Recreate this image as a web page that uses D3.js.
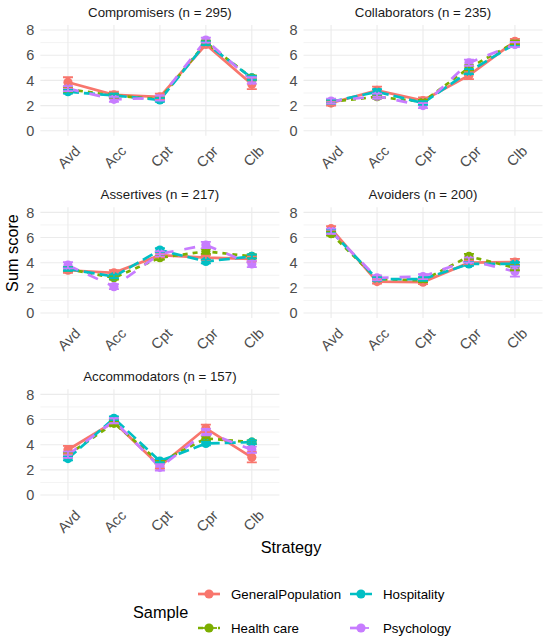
<!DOCTYPE html>
<html>
<head>
<meta charset="utf-8">
<script src="https://cdn.jsdelivr.net/npm/d3@7"></script>
<style>
  body { margin: 0; background: #fff; }
  text { font-family: "Liberation Sans", Arial, sans-serif; }
</style>
</head>
<body>
<div id="chart"></div>
<script>
var width = 550;
var height = 642;

var strategies = ["Avd", "Acc", "Cpt", "Cpr", "Clb"];
var samples = ["GeneralPopulation", "Health care", "Hospitality", "Psychology"];
var clusters = ["Compromisers (n = 295)", "Collaborators (n = 235)", "Assertives (n = 217)",
                "Avoiders (n = 200)", "Accommodators (n = 157)"];
var yTicks = [0, 2, 4, 6, 8];

// means per sample (rows follow `samples`)
var compromisersMean = [[3.85, 2.85, 2.7, 6.85, 3.7], [3.3, 2.8, 2.5, 7.0, 4.2],
                        [3.1, 2.8, 2.45, 6.95, 4.2], [3.35, 2.5, 2.6, 7.2, 4.0]];
var compromisersErr  = [[0.4, 0.25, 0.25, 0.2, 0.4], [0.2, 0.15, 0.15, 0.15, 0.2],
                        [0.15, 0.15, 0.15, 0.15, 0.15], [0.2, 0.2, 0.2, 0.2, 0.25]];
var collaboratorsMean = [[2.2, 3.2, 2.4, 4.4, 7.1], [2.3, 2.7, 2.3, 5.0, 7.0],
                         [2.3, 3.1, 2.2, 4.7, 6.9], [2.35, 2.75, 2.0, 5.4, 6.85]];
var collaboratorsErr  = [[0.2, 0.3, 0.25, 0.3, 0.2], [0.15, 0.15, 0.15, 0.2, 0.15],
                         [0.15, 0.2, 0.15, 0.2, 0.15], [0.2, 0.2, 0.2, 0.25, 0.2]];
var assertivesMean = [[3.4, 3.2, 4.6, 4.4, 4.3], [3.5, 2.8, 4.4, 4.9, 4.5],
                      [3.5, 2.9, 5.0, 4.1, 4.5], [3.8, 2.1, 4.7, 5.4, 3.9]];
var assertivesErr  = [[0.2, 0.2, 0.2, 0.2, 0.2], [0.15, 0.15, 0.15, 0.2, 0.15],
                      [0.15, 0.15, 0.15, 0.15, 0.15], [0.25, 0.2, 0.2, 0.25, 0.25]];
var avoidersMean = [[6.7, 2.5, 2.45, 4.0, 4.05], [6.3, 2.7, 2.6, 4.5, 3.6],
                    [6.5, 2.7, 2.7, 3.9, 3.9], [6.5, 2.8, 2.9, 4.2, 3.3]];
var avoidersErr  = [[0.2, 0.15, 0.15, 0.2, 0.25], [0.15, 0.15, 0.15, 0.2, 0.2],
                    [0.15, 0.15, 0.15, 0.15, 0.15], [0.2, 0.2, 0.2, 0.2, 0.4]];
var accommodatorsMean = [[3.6, 5.8, 2.3, 5.3, 3.0], [3.2, 5.7, 2.6, 4.5, 4.2],
                         [2.9, 6.1, 2.7, 4.1, 4.2], [3.2, 5.9, 2.2, 5.0, 3.6]];
var accommodatorsErr  = [[0.3, 0.2, 0.2, 0.3, 0.4], [0.2, 0.15, 0.15, 0.2, 0.15],
                         [0.15, 0.15, 0.15, 0.15, 0.15], [0.25, 0.2, 0.25, 0.25, 0.25]];

var panelMeans = [compromisersMean, collaboratorsMean, assertivesMean, avoidersMean, accommodatorsMean];
var panelErrs = [compromisersErr, collaboratorsErr, assertivesErr, avoidersErr, accommodatorsErr];

var colors = ["#F8766D", "#7CAE00", "#00BFC4", "#C77CFF"];
var lw = 2.7;
var dashes = [null, "5,5", "11,5", "11,11"];

var colLeft = [40.4, 303.5];
var panelW = 239;
var rowTop = [25, 207.3, 389.3];
var panelH = 110.8;

var svg = d3.select("#chart").append("svg")
    .attr("width", width)
    .attr("height", height);

clusters.forEach(function(title, p) {
  var col = p % 2, row = Math.floor(p / 2);
  var left = colLeft[col], top = rowTop[row];

  var x = d3.scalePoint().domain(strategies).range([left, left + panelW]).padding(0.6);
  var y = d3.scaleLinear().domain([-0.4, 8.4]).range([top + panelH, top]);

  var g = svg.append("g");

  // grid
  g.selectAll("line.minor").data([1, 3, 5, 7]).enter().append("line")
      .attr("x1", left).attr("x2", left + panelW)
      .attr("y1", function(d) { return y(d); }).attr("y2", function(d) { return y(d); })
      .attr("stroke", "#ebebeb").attr("stroke-width", 0.6);
  g.selectAll("line.major").data(yTicks).enter().append("line")
      .attr("x1", left).attr("x2", left + panelW)
      .attr("y1", function(d) { return y(d); }).attr("y2", function(d) { return y(d); })
      .attr("stroke", "#ebebeb").attr("stroke-width", 1.1);
  g.selectAll("line.vert").data(strategies).enter().append("line")
      .attr("x1", function(d) { return x(d); }).attr("x2", function(d) { return x(d); })
      .attr("y1", top).attr("y2", top + panelH)
      .attr("stroke", "#ebebeb").attr("stroke-width", 1.1);

  // y tick labels
  g.selectAll("text.yt").data(yTicks).enter().append("text")
      .attr("x", left - 6).attr("y", function(d) { return y(d); })
      .attr("dy", "0.36em").attr("text-anchor", "end")
      .attr("font-size", 14.5).attr("fill", "#4d4d4d")
      .text(function(d) { return d; });

  // x tick labels
  g.selectAll("text.xt").data(strategies).enter().append("text")
      .attr("transform", function(d) { return "translate(" + (x(d) + 6) + "," + (top + panelH + 9) + ") rotate(-45)"; })
      .attr("text-anchor", "end").attr("dy", "0.7em")
      .attr("font-size", 14.5).attr("fill", "#4d4d4d")
      .text(function(d) { return d; });

  // strip title
  g.append("text")
      .attr("x", left + panelW / 2).attr("y", top - 8)
      .attr("text-anchor", "middle").attr("font-size", 13.3).attr("fill", "#1a1a1a")
      .text(title);

  var means = panelMeans[p], errs = panelErrs[p];
  var line = d3.line().x(function(d, i) { return x(strategies[i]); }).y(function(d) { return y(d); });

  means.forEach(function(vals, s) {
    g.append("path").datum(vals)
        .attr("d", line).attr("fill", "none")
        .attr("stroke", colors[s]).attr("stroke-width", lw)
        .attr("stroke-dasharray", dashes[s]);
  });
  means.forEach(function(vals, s) {
    g.selectAll("circle.s" + s).data(vals).enter().append("circle")
        .attr("cx", function(d, i) { return x(strategies[i]); })
        .attr("cy", function(d) { return y(d); })
        .attr("r", 4.6).attr("fill", colors[s]);
  });
  means.forEach(function(vals, s) {
    var eg = g.append("g").attr("stroke", colors[s]).attr("stroke-width", 1.8).attr("fill", "none");
    vals.forEach(function(v, i) {
      var cx = x(strategies[i]), e = errs[s][i];
      eg.append("path").attr("d",
        "M" + (cx - 5) + "," + y(v + e) + "H" + (cx + 5) +
        "M" + cx + "," + y(v + e) + "V" + y(v - e) +
        "M" + (cx - 5) + "," + y(v - e) + "H" + (cx + 5));
    });
  });
});

// axis titles
svg.append("text")
    .attr("x", 291).attr("y", 553)
    .attr("text-anchor", "middle").attr("font-size", 16.3).attr("fill", "#000")
    .text("Strategy");
svg.append("text")
    .attr("transform", "translate(18,253) rotate(-90)")
    .attr("text-anchor", "middle").attr("font-size", 16.3).attr("fill", "#000")
    .text("Sum score");

// legend
svg.append("text")
    .attr("x", 133).attr("y", 612).attr("dy", "0.35em")
    .attr("font-size", 16.3).attr("fill", "#000")
    .text("Sample");

var legendX = [198, 350];
var legendY = [594, 628];
samples.forEach(function(name, s) {
  var lx = legendX[Math.floor(s / 2)], ly = legendY[s % 2];
  var lg = svg.append("g");
  lg.append("line")
      .attr("x1", lx).attr("x2", lx + 22).attr("y1", ly).attr("y2", ly)
      .attr("stroke", colors[s]).attr("stroke-width", lw)
      .attr("stroke-dasharray", dashes[s]);
  lg.append("line")
      .attr("x1", lx + 3).attr("x2", lx + 19).attr("y1", ly).attr("y2", ly)
      .attr("stroke", colors[s]).attr("stroke-width", 1.8);
  lg.append("circle")
      .attr("cx", lx + 11).attr("cy", ly).attr("r", 4.6).attr("fill", colors[s]);
  lg.append("text")
      .attr("x", lx + 33).attr("y", ly).attr("dy", "0.35em")
      .attr("font-size", 13.3).attr("fill", "#000")
      .text(name);
});
</script>
</body>
</html>
